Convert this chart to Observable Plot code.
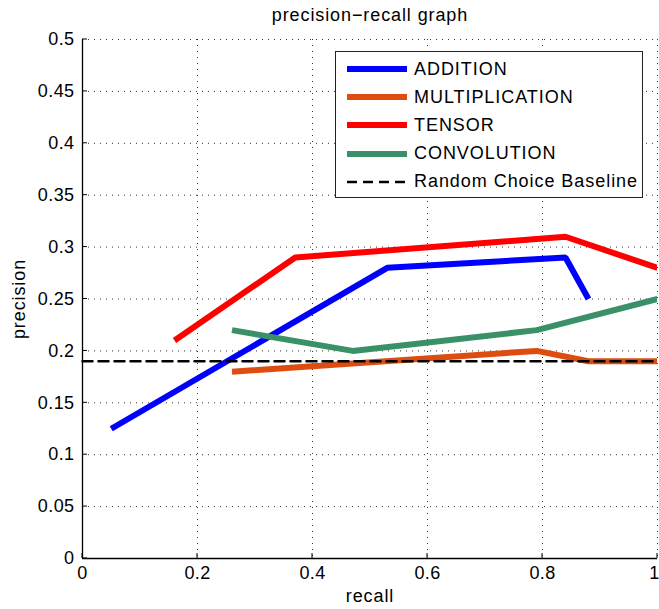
<!DOCTYPE html>
<html>
<head>
<meta charset="utf-8">
<script src="https://cdn.jsdelivr.net/npm/d3@7"></script>
<script src="https://cdn.jsdelivr.net/npm/@observablehq/plot@0.6"></script>
<style>
  html, body { margin: 0; padding: 0; background: #fff; }
  #wrap { position: relative; width: 659px; height: 609px; font-family: "Liberation Sans", Arial, sans-serif; }
  #legend { position: absolute; left: 335px; top: 51px; width: 308px; height: 147px; border: 1.3px solid #222; background: #fff; box-sizing: border-box; }
  .row { position: absolute; left: 0; height: 28px; display: flex; align-items: center; }
  .row svg { margin-left: 11px; }
  .row span { margin-left: 7px; font-size: 18px; letter-spacing: 0.95px; color: #000; white-space: nowrap; }
</style>
</head>
<body>
<div id="wrap"></div>
<script>
const seriesNames = ["ADDITION", "MULTIPLICATION", "TENSOR", "CONVOLUTION"];
const seriesColors = ["#0000ff", "#de4c10", "#ff0000", "#3a9168"];
const additionRecall = [0.05, 0.53, 0.84, 0.88];
const additionPrecision = [0.125, 0.28, 0.29, 0.25];
const multRecall = [0.26, 0.79, 0.88, 1.0];
const multPrecision = [0.18, 0.20, 0.19, 0.19];
const tensorRecall = [0.16, 0.37, 0.84, 1.0];
const tensorPrecision = [0.21, 0.29, 0.31, 0.28];
const convRecall = [0.26, 0.47, 0.79, 1.0];
const convPrecision = [0.22, 0.20, 0.22, 0.25];
const baselineRecall = [0, 1];
const baselinePrecision = [0.19, 0.19];
const baselineName = "Random Choice Baseline";
const xTicks = [0, 0.2, 0.4, 0.6, 0.8, 1];
const yTicks = [0, 0.05, 0.1, 0.15, 0.2, 0.25, 0.3, 0.35, 0.4, 0.45, 0.5];
const yTickLabels = ["0", "0.05", "0.1", "0.15", "0.2", "0.25", "0.3", "0.35", "0.4", "0.45", "0.5"];
const xTickLabels = ["0", "0.2", "0.4", "0.6", "0.8", "1"];
const titleText = "precision\u2212recall graph";
const xLabel = "recall";
const yLabel = "precision";

const recalls = [additionRecall, multRecall, tensorRecall, convRecall];
const precisions = [additionPrecision, multPrecision, tensorPrecision, convPrecision];
const rows = [];
seriesNames.forEach((name, i) => {
  recalls[i].forEach((r, j) => rows.push({series: name, recall: r, precision: precisions[i][j]}));
});
const baseRows = baselineRecall.map((r, j) => ({recall: r, precision: baselinePrecision[j]}));

const lineMarks = seriesNames.map((name, i) =>
  Plot.line(rows.filter(d => d.series === name), {
    x: "recall", y: "precision", stroke: seriesColors[i], strokeWidth: 6,
    strokeLinecap: "butt", strokeLinejoin: "miter", clip: true
  })
);

const chart = Plot.plot({
  width: 659,
  height: 609,
  marginLeft: 82,
  marginRight: 2,
  marginTop: 39,
  marginBottom: 51,
  style: { fontFamily: "Liberation Sans, Arial, sans-serif", background: "#fff", overflow: "visible" },
  x: { type: "linear", domain: [0, 1] },
  y: { type: "linear", domain: [0, 0.5] },
  marks: [
    Plot.gridX(xTicks, { stroke: "#333", strokeOpacity: 1, strokeWidth: 1, strokeDasharray: "1,5" }),
    Plot.gridY(yTicks, { stroke: "#333", strokeOpacity: 1, strokeWidth: 1, strokeDasharray: "1,5" }),
    ...lineMarks,
    Plot.line(baseRows, { x: "recall", y: "precision", stroke: "#000", strokeWidth: 2.5, strokeDasharray: "10,6" }),
    Plot.ruleX([0], { stroke: "#000", strokeWidth: 1.3 }),
    Plot.ruleY([0], { stroke: "#000", strokeWidth: 1.3 }),
    Plot.axisX({ ticks: xTicks, tickFormat: (d, i) => xTickLabels[i], tickSize: 0, tickPadding: 8, fontSize: 18, label: null }),
    Plot.axisY({ ticks: yTicks, tickFormat: (d, i) => yTickLabels[i], tickSize: 0, tickPadding: 8, fontSize: 18, label: null }),
    Plot.text([titleText], { frameAnchor: "top", dy: -31, fontSize: 18, fill: "#000" }),
    Plot.text([xLabel], { frameAnchor: "bottom", dy: 43, fontSize: 18, fill: "#000" }),
    Plot.text([yLabel], { frameAnchor: "left", textAnchor: "middle", dx: -63, rotate: -90, fontSize: 18, fill: "#000" })
  ]
});

const wrap = document.getElementById("wrap");
wrap.appendChild(chart);

const svg = d3.select(chart);
// letter spacing to match the wider reference typeface
svg.selectAll("text").attr("letter-spacing", "0.4px");
svg.selectAll("[aria-label=text] text").attr("letter-spacing", "0.9px");
// keep the last x tick label inside the page, as in the reference
svg.selectAll("[aria-label='x-axis tick label'] text")
  .filter(function() { return this.textContent === "1"; })
  .attr("dx", "-3");

// Inward tick marks, placed with the chart's own scales
const ys = chart.scale("y");
const xs = chart.scale("x");
svg.append("g").selectAll("line").data(yTicks).join("line")
  .attr("x1", xs.apply(0)).attr("x2", xs.apply(0) + 5)
  .attr("y1", d => ys.apply(d)).attr("y2", d => ys.apply(d))
  .attr("stroke", "#000").attr("stroke-width", 1);
svg.append("g").selectAll("line").data(xTicks).join("line")
  .attr("x1", d => xs.apply(d)).attr("x2", d => xs.apply(d))
  .attr("y1", ys.apply(0)).attr("y2", ys.apply(0) - 5)
  .attr("stroke", "#000").attr("stroke-width", 1);

// Legend
const legend = document.createElement("div");
legend.id = "legend";
const entries = seriesNames.map((n, i) => ({name: n, color: seriesColors[i], dash: null, w: 6}))
  .concat([{name: baselineName, color: "#000", dash: "10,6", w: 2.5}]);
entries.forEach((e, i) => {
  const row = document.createElement("div");
  row.className = "row";
  row.style.top = (3 + i * 28.2) + "px";
  row.innerHTML = `<svg width="60" height="10"><line x1="0" y1="5" x2="60" y2="5" stroke="${e.color}" stroke-width="${e.w}" ${e.dash ? `stroke-dasharray="${e.dash}"` : ""}/></svg><span>${e.name}</span>`;
  legend.appendChild(row);
});
wrap.appendChild(legend);
</script>
</body>
</html>
